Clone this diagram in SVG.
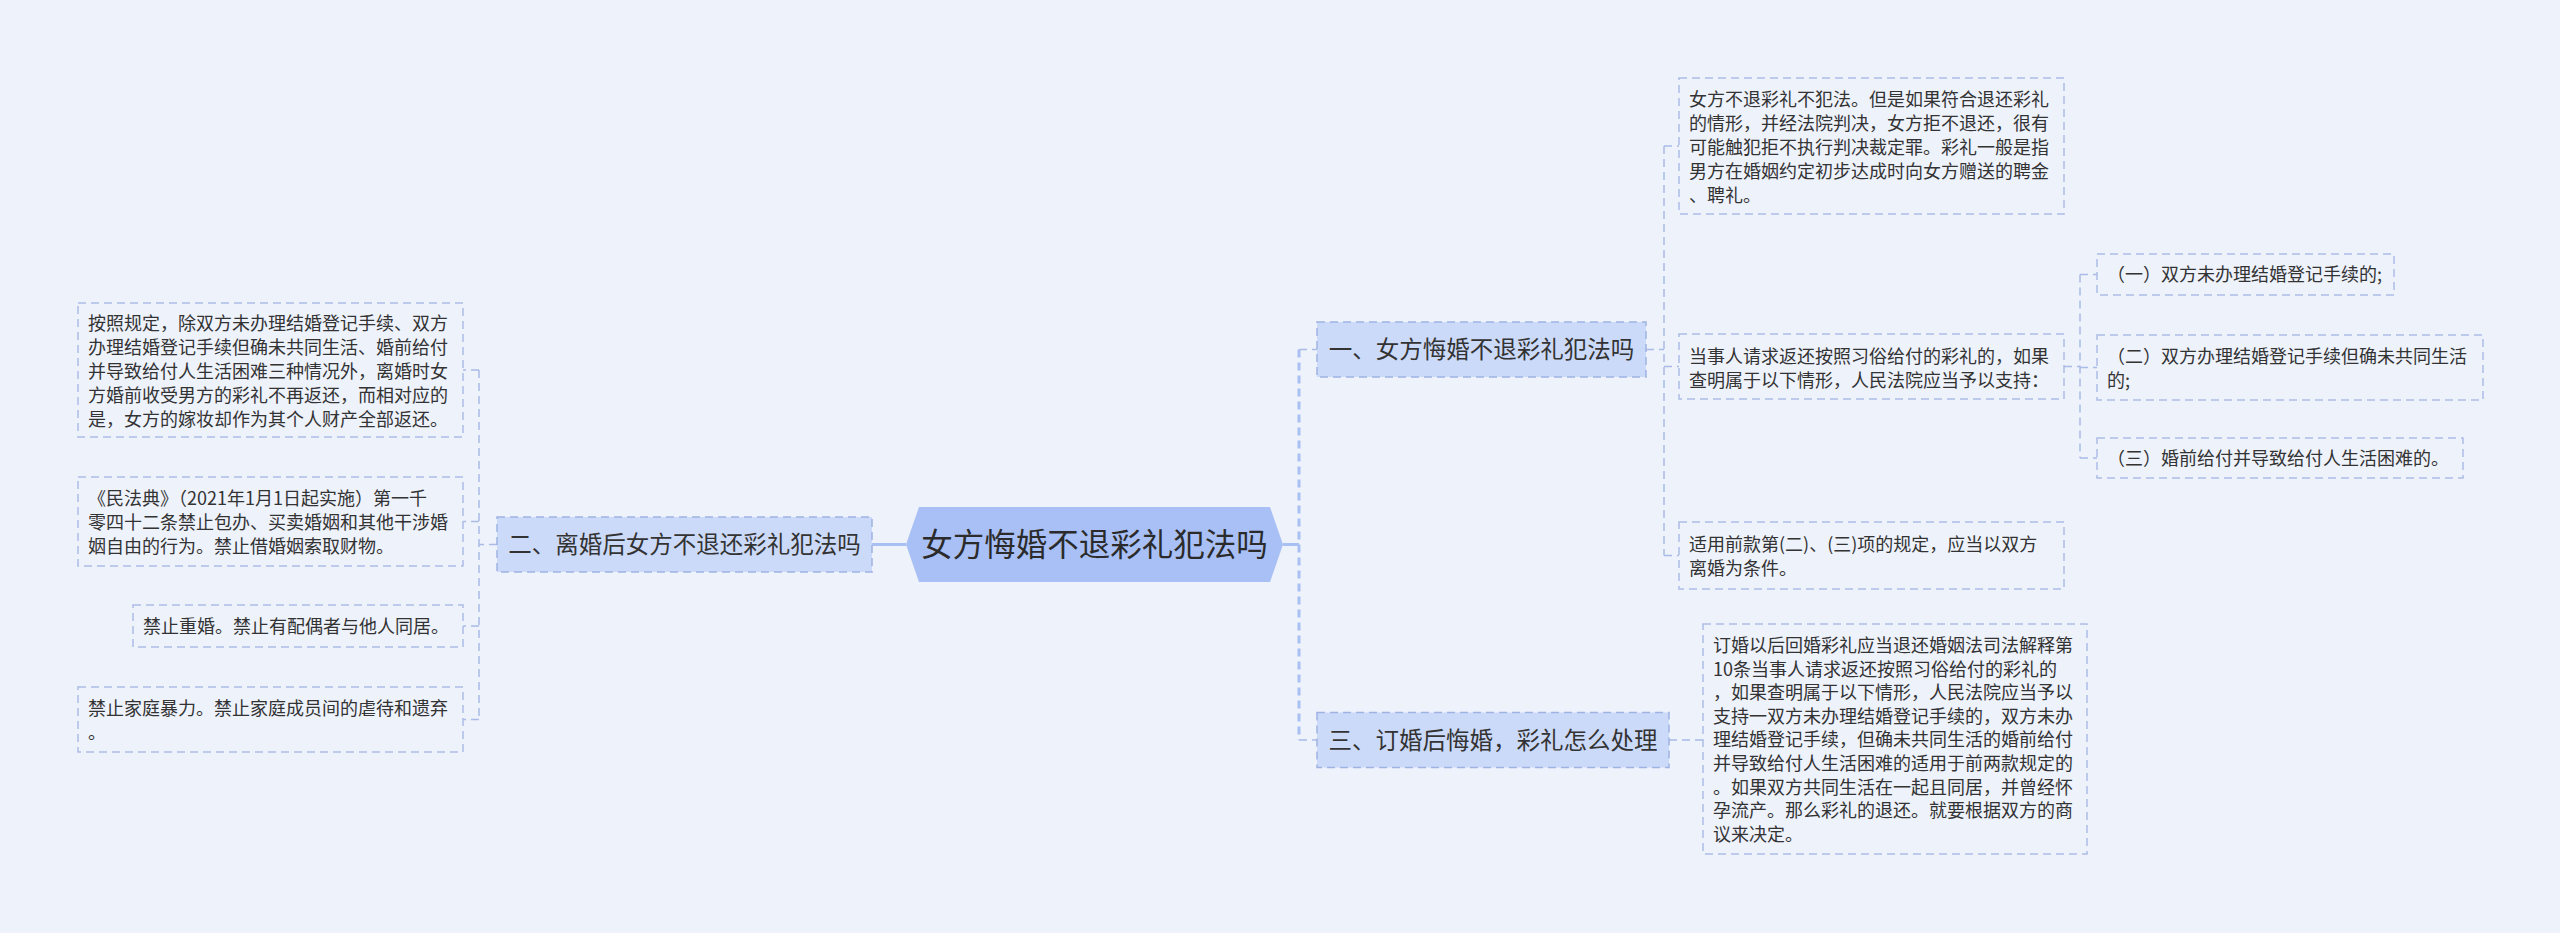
<svg xmlns="http://www.w3.org/2000/svg" width="2560" height="933" viewBox="0 0 2560 933">
<style>
text{font-family:"Noto Sans CJK SC","Noto Sans",sans-serif;fill:#333333}
.leaf rect{fill:none;stroke:#aebde6;stroke-width:1.5;stroke-dasharray:8 5}
.leaf text{font-size:18px}
.l1 rect{fill:#ccdaf9;stroke:#9fb3e2;stroke-width:1.5;stroke-dasharray:8 5}
.l1 text{font-size:23.5px;text-anchor:middle}
.root text{font-size:31.5px;text-anchor:middle;fill:#2b2b2b}
.solid{fill:none;stroke:#a9c0f2;stroke-width:3}
.dash{fill:none;stroke:#a9bbe6;stroke-width:1.5;stroke-dasharray:8 5}
.dashb{fill:none;stroke:#a9c0f2;stroke-width:3;stroke-dasharray:8 5}
</style>
<rect x="0" y="0" width="2560" height="933" fill="#eef2fb"/>
<g id="connectors">
<path class="solid" d="M872,544.5 H906"/>
<path class="solid" d="M1283,544.5 H1299"/>
<path class="dashb" d="M1299,349.5 V740"/>
<path class="dash" d="M1299,349.5 H1317"/>
<path class="dash" d="M1299,740 H1317"/>
<path class="dash" d="M497,544.5 H479"/>
<path class="dash" d="M479,370 V719.5"/>
<path class="dash" d="M479,370 H463"/>
<path class="dash" d="M479,521.5 H463"/>
<path class="dash" d="M479,626 H463"/>
<path class="dash" d="M479,719.5 H463"/>
<path class="dash" d="M1646,349.5 H1664"/>
<path class="dash" d="M1664,146 V555.5"/>
<path class="dash" d="M1664,146 H1679"/>
<path class="dash" d="M1664,366.5 H1679"/>
<path class="dash" d="M1664,555.5 H1679"/>
<path class="dash" d="M2064,366.5 H2080"/>
<path class="dash" d="M2080,274.5 V458"/>
<path class="dash" d="M2080,274.5 H2097"/>
<path class="dash" d="M2080,367.5 H2097"/>
<path class="dash" d="M2080,458 H2097"/>
<path class="dash" d="M1669,740 H1703"/>
</g>
<g id="root" class="root">
<polygon points="906,544.5 919,507 1270,507 1283,544.5 1270,582 919,582" fill="#a8c0f5"/>
<text x="1094.5" y="556">女方悔婚不退彩礼犯法吗</text>
</g>
<g id="n2" class="l1">
<rect x="497" y="517" width="375" height="55"/>
<text x="684.5" y="553">二、离婚后女方不退还彩礼犯法吗</text>
</g>
<g id="n1" class="l1">
<rect x="1317" y="322" width="329" height="55"/>
<text x="1481.5" y="358">一、女方悔婚不退彩礼犯法吗</text>
</g>
<g id="n3" class="l1">
<rect x="1317" y="712.5" width="352" height="55"/>
<text x="1493" y="748.5">三、订婚后悔婚，彩礼怎么处理</text>
</g>
<g id="a" class="leaf">
<rect x="78" y="303" width="385" height="134"/>
<text x="88" y="330"><tspan x="88">按照规定，除双方未办理结婚登记手续、双方</tspan><tspan x="88" dy="24">办理结婚登记手续但确未共同生活、婚前给付</tspan><tspan x="88" dy="24">并导致给付人生活困难三种情况外，离婚时女</tspan><tspan x="88" dy="24">方婚前收受男方的彩礼不再返还，而相对应的</tspan><tspan x="88" dy="24">是，女方的嫁妆却作为其个人财产全部返还。</tspan></text>
</g>
<g id="b" class="leaf">
<rect x="78" y="477" width="385" height="89"/>
<text x="88" y="505"><tspan x="88">《民法典》（2021年1月1日起实施）第一千</tspan><tspan x="88" dy="24">零四十二条禁止包办、买卖婚姻和其他干涉婚</tspan><tspan x="88" dy="24">姻自由的行为。禁止借婚姻索取财物。</tspan></text>
</g>
<g id="c" class="leaf">
<rect x="133" y="605" width="330" height="42"/>
<text x="143" y="633">禁止重婚。禁止有配偶者与他人同居。</text>
</g>
<g id="d" class="leaf">
<rect x="78" y="687" width="385" height="65"/>
<text x="88" y="715"><tspan x="88">禁止家庭暴力。禁止家庭成员间的虐待和遗弃</tspan><tspan x="88" dy="24">。</tspan></text>
</g>
<g id="r1" class="leaf">
<rect x="1679" y="78" width="385" height="136"/>
<text x="1689" y="106"><tspan x="1689">女方不退彩礼不犯法。但是如果符合退还彩礼</tspan><tspan x="1689" dy="24">的情形，并经法院判决，女方拒不退还，很有</tspan><tspan x="1689" dy="24">可能触犯拒不执行判决裁定罪。彩礼一般是指</tspan><tspan x="1689" dy="24">男方在婚姻约定初步达成时向女方赠送的聘金</tspan><tspan x="1689" dy="24">、聘礼。</tspan></text>
</g>
<g id="r2" class="leaf">
<rect x="1679" y="334" width="385" height="65"/>
<text x="1689" y="363"><tspan x="1689">当事人请求返还按照习俗给付的彩礼的，如果</tspan><tspan x="1689" dy="24">查明属于以下情形，人民法院应当予以支持：</tspan></text>
</g>
<g id="r2a" class="leaf">
<rect x="2097" y="254" width="297" height="41"/>
<text x="2107" y="281">（一）双方未办理结婚登记手续的;</text>
</g>
<g id="r2b" class="leaf">
<rect x="2097" y="335" width="386" height="65"/>
<text x="2107" y="363"><tspan x="2107">（二）双方办理结婚登记手续但确未共同生活</tspan><tspan x="2107" dy="24">的;</tspan></text>
</g>
<g id="r2c" class="leaf">
<rect x="2097" y="438" width="366" height="40"/>
<text x="2107" y="465">（三）婚前给付并导致给付人生活困难的。</text>
</g>
<g id="r3" class="leaf">
<rect x="1679" y="522" width="385" height="67"/>
<text x="1689" y="551"><tspan x="1689">适用前款第(二)、(三)项的规定，应当以双方</tspan><tspan x="1689" dy="24">离婚为条件。</tspan></text>
</g>
<g id="r4" class="leaf">
<rect x="1703" y="624" width="384" height="230"/>
<text x="1713" y="652"><tspan x="1713">订婚以后回婚彩礼应当退还婚姻法司法解释第</tspan><tspan x="1713" dy="23.6">10条当事人请求返还按照习俗给付的彩礼的</tspan><tspan x="1713" dy="23.6">，如果查明属于以下情形，人民法院应当予以</tspan><tspan x="1713" dy="23.6">支持一双方未办理结婚登记手续的，双方未办</tspan><tspan x="1713" dy="23.6">理结婚登记手续，但确未共同生活的婚前给付</tspan><tspan x="1713" dy="23.6">并导致给付人生活困难的适用于前两款规定的</tspan><tspan x="1713" dy="23.6">。如果双方共同生活在一起且同居，并曾经怀</tspan><tspan x="1713" dy="23.6">孕流产。那么彩礼的退还。就要根据双方的商</tspan><tspan x="1713" dy="23.6">议来决定。</tspan></text>
</g>
</svg>
